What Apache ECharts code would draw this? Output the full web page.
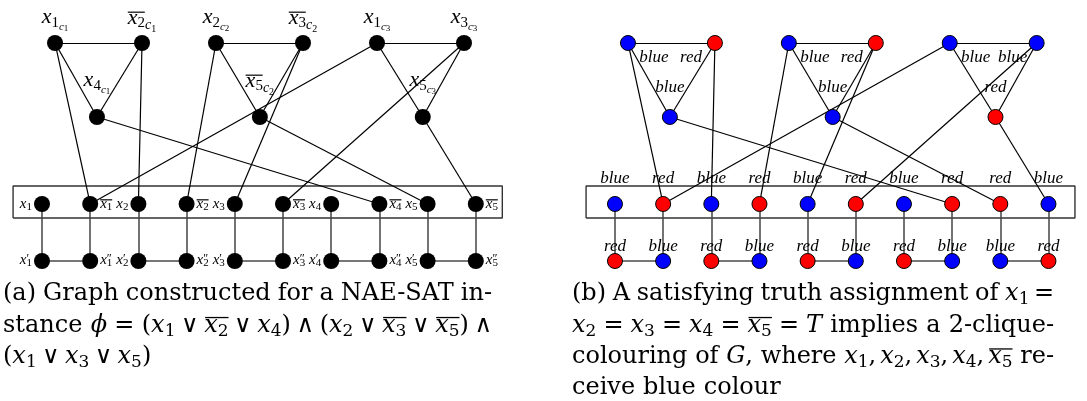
<!DOCTYPE html>
<html>
<head>
<meta charset="utf-8">
<script src="https://cdn.jsdelivr.net/npm/echarts@6.0.0/dist/echarts.min.js"></script>
<style>
html,body{margin:0;padding:0;background:#ffffff;}
#chart{width:1087px;height:401px;}
</style>
</head>
<body>
<div id="chart"></div>
<script>
// ================= data =================
// clause literals: [variable, negated]
const clauseLiterals = [
  [[1, false], [2, true], [4, false]],
  [[2, false], [3, true], [5, true]],
  [[1, false], [3, false], [5, false]]
];
// clause-node positions (x in literal-column units): top-left, top-right, middle
const clauseNodeX = [[0.27, 2.075, 1.14], [3.61, 5.415, 4.52], [6.95, 8.755, 7.9]];
const clauseNodeRow = ['top', 'top', 'middle'];
const rowY = { top: 4.523, middle: 2.988, literal: 1.183, bottom: 0 };
// literal columns: x1, ~x1, x2, ~x2, ... x5, ~x5
const literalX = [0, 1, 2, 3, 4, 5, 6, 7, 8, 9];
const cliqueBoxX = [-0.6, 9.55];
const cliqueBoxY = [0.892, 1.556];
// colouring of panel (b)
const clauseColours = [['blue', 'red', 'blue'], ['blue', 'red', 'blue'], ['blue', 'blue', 'red']];
const literalColours = ['blue', 'red', 'blue', 'red', 'blue', 'red', 'blue', 'red', 'red', 'blue'];
const bottomColours = ['red', 'blue', 'red', 'blue', 'red', 'blue', 'red', 'blue', 'blue', 'red'];

// captions (r: roman, i: math italic, s: subscript, sp/th/md/tn: spaces, ob/oe: overline)
const captionA = [
  ['r:(a)', 'sp', 'r:Graph', 'sp', 'r:constructed', 'sp', 'r:for', 'sp', 'r:a', 'sp', 'r:NAE-SAT', 'sp', 'r:in-'],
  ['r:stance', 'sp', 'i:ϕ', 'th', 'r:=', 'th', 'r:(', 'i:x', 's:1', 'md', 'r:∨', 'md', 'ob', 'i:x', 's:2', 'oe', 'md', 'r:∨', 'md', 'i:x', 's:4', 'r:)', 'md', 'r:∧', 'md',
   'r:(', 'i:x', 's:2', 'md', 'r:∨', 'md', 'ob', 'i:x', 's:3', 'oe', 'md', 'r:∨', 'md', 'ob', 'i:x', 's:5', 'oe', 'r:)', 'md', 'r:∧'],
  ['r:(', 'i:x', 's:1', 'md', 'r:∨', 'md', 'i:x', 's:3', 'md', 'r:∨', 'md', 'i:x', 's:5', 'r:)']
];
const captionB = [
  ['r:(b)', 'sp', 'r:A', 'sp', 'r:satisfying', 'sp', 'r:truth', 'sp', 'r:assignment', 'sp', 'r:of', 'sp', 'i:x', 's:1', 'th', 'r:='],
  ['i:x', 's:2', 'th', 'r:=', 'th', 'i:x', 's:3', 'th', 'r:=', 'th', 'i:x', 's:4', 'th', 'r:=', 'th', 'ob', 'i:x', 's:5', 'oe', 'th', 'r:=', 'th', 'i:T',
   'sp', 'r:implies', 'sp', 'r:a', 'sp', 'r:2-clique-'],
  ['r:colouring', 'sp', 'r:of', 'sp', 'i:G', 'r:,', 'sp', 'r:where', 'sp', 'i:x', 's:1', 'r:,', 'tn', 'i:x', 's:2', 'r:,', 'tn', 'i:x', 's:3', 'r:,', 'tn',
   'i:x', 's:4', 'r:,', 'tn', 'ob', 'i:x', 's:5', 'oe', 'sp', 'r:re-'],
  ['r:ceive', 'sp', 'r:blue', 'sp', 'r:colour']
];

// ================= styling / layout =================
const COLOR = { blue: '#0000ff', red: '#ff0000' };
const LF = 'Liberation Serif';
const UNIT = 48.2;           // px per literal column
const PANEL_SHIFT = 573;     // px between panel (a) and (b)
const X_MIN = -0.8, X_MAX = 9.8, Y_MIN = -0.5, Y_MAX = 4.8;
const FIRST_COL_PX = 42, BOTTOM_ROW_PX = 261;

function gridFor(p) {
  return {
    left: FIRST_COL_PX + X_MIN * UNIT + p * PANEL_SHIFT,
    top: BOTTOM_ROW_PX - Y_MAX * UNIT,
    width: (X_MAX - X_MIN) * UNIT,
    height: (Y_MAX - Y_MIN) * UNIT
  };
}

const base = { color: '#000', textBorderWidth: 0, textBorderColor: 'transparent', align: 'left', verticalAlign: 'top', fontFamily: LF };
function tok(o) { return Object.assign({}, base, o); }
const richLeft = {
  ol0: tok({ width: 17, height: 1.2, lineHeight: 1.2, fontSize: 1 }),
  ol1: tok({ width: 17, height: 1.2, lineHeight: 1.2, fontSize: 1, backgroundColor: '#000' }),
  X: tok({ fontStyle: 'italic', fontSize: 22, height: 10, lineHeight: 10 }),
  S: tok({ fontSize: 15, height: 20.3, lineHeight: 20.3 }),
  C: tok({ fontStyle: 'italic', fontSize: 11, height: 29.4, lineHeight: 29.4 }),
  CS: tok({ fontSize: 9, height: 32.7, lineHeight: 32.7 }),
  C2: tok({ fontStyle: 'italic', fontSize: 14, height: 25.4, lineHeight: 25.4 }),
  CS2: tok({ fontSize: 10, height: 32.2, lineHeight: 32.2 }),
  sol0: tok({ width: 12, height: 1.2, lineHeight: 1.2, fontSize: 1 }),
  sol1: tok({ width: 12, height: 1.2, lineHeight: 1.2, fontSize: 1, backgroundColor: '#000' }),
  XS: tok({ fontStyle: 'italic', fontSize: 15, height: 7, lineHeight: 7 }),
  SS: tok({ fontSize: 11, height: 14.3, lineHeight: 14.3 }),
  PR: tok({ fontSize: 12, width: 0, height: 5, lineHeight: 5 })
};

function literalIndex(v, neg) { return (v - 1) * 2 + (neg ? 1 : 0); }

function buildGraph(p) {
  const nodes = [], links = [];
  clauseLiterals.forEach((cl, j) => {
    cl.forEach(([v, neg], k) => {
      const row = clauseNodeRow[k];
      const node = { name: 'c' + j + k, value: [clauseNodeX[j][k], rowY[row]] };
      if (p === 0) {
        node.itemStyle = { color: '#000' };
        node.label = {
          position: 'inside', offset: [0, row === 'top' ? -14.7 : -25.7],
          formatter: neg ? `{ol1| }\n{X|x}{S|${v}}{C2|c}{CS2|${j + 1}}` : `{ol0| }\n{X|x}{S|${v}}{C|c}{CS|${j + 1}}`
        };
      } else {
        const col = clauseColours[j][k];
        node.itemStyle = { color: COLOR[col], borderColor: '#000', borderWidth: 1 };
        node.label = { position: 'inside', offset: k === 0 ? [26, 15] : (k === 1 ? [-24, 15] : [0, -29]), formatter: col };
      }
      nodes.push(node);
    });
    links.push({ source: 'c' + j + '0', target: 'c' + j + '1' });
    links.push({ source: 'c' + j + '0', target: 'c' + j + '2' });
    links.push({ source: 'c' + j + '1', target: 'c' + j + '2' });
    cl.forEach(([v, neg], k) => links.push({ source: 'c' + j + k, target: 'l' + literalIndex(v, !neg) }));
  });
  literalX.forEach((x, i) => {
    const v = Math.floor(i / 2) + 1, neg = i % 2 === 1;
    const lit = { name: 'l' + i, value: [x, rowY.literal] };
    const bot = { name: 'b' + i, value: [x, rowY.bottom] };
    if (p === 0) {
      lit.itemStyle = { color: '#000' };
      bot.itemStyle = { color: '#000' };
      lit.label = { position: neg ? 'right' : 'left', distance: neg ? 2 : 2, offset: [0, 3],
        formatter: `{sol${neg ? 1 : 0}| }\n{XS|x}{SS|${v}}` };
      bot.label = { position: neg ? 'right' : 'left', distance: neg ? 2 : 2, offset: [0, 2],
        formatter: `{sol0| }\n{XS|x}{PR|${neg ? '″' : '′'}}{SS|${v}}` };
    } else {
      lit.itemStyle = { color: COLOR[literalColours[i]], borderColor: '#000', borderWidth: 1 };
      bot.itemStyle = { color: COLOR[bottomColours[i]], borderColor: '#000', borderWidth: 1 };
      lit.label = { position: 'inside', offset: [0, -25], formatter: literalColours[i] };
      bot.label = { position: 'inside', offset: [0, -14], formatter: bottomColours[i] };
    }
    nodes.push(lit, bot);
    links.push({ source: 'l' + i, target: 'b' + i, lineStyle: { color: '#444', width: 1.5 } });
    if (i % 2 === 1) links.push({ source: 'b' + (i - 1), target: 'b' + i, lineStyle: { color: '#777', width: 2 } });
  });
  return {
    type: 'graph', coordinateSystem: 'cartesian2d', xAxisIndex: p, yAxisIndex: p,
    layout: 'none', symbol: 'circle', symbolSize: p === 0 ? 16 : 15,
    silent: true, animation: false, roam: false, draggable: false,
    emphasis: { disabled: true },
    data: nodes, links: links, z: 3,
    lineStyle: { color: '#000', width: 1.2, opacity: 1, curveness: 0 },
    label: p === 0
      ? { show: true, color: '#000', textBorderWidth: 0, textBorderColor: 'transparent', rich: richLeft }
      : { show: true, color: '#000', textBorderWidth: 0, textBorderColor: 'transparent', fontFamily: LF, fontStyle: 'italic', fontSize: 17 }
  };
}

function buildBox(p) {
  return {
    type: 'line', xAxisIndex: p, yAxisIndex: p, symbol: 'none', silent: true, animation: false, z: 1,
    lineStyle: { color: '#333', width: 1.4 },
    data: [[cliqueBoxX[0], cliqueBoxY[0]], [cliqueBoxX[1], cliqueBoxY[0]], [cliqueBoxX[1], cliqueBoxY[1]],
           [cliqueBoxX[0], cliqueBoxY[1]], [cliqueBoxX[0], cliqueBoxY[0]]]
  };
}

// ---------- caption layout (justified like the LaTeX source) ----------
const mctx = document.createElement('canvas').getContext('2d');
const CAP_FAMILY = '"DejaVu Serif"';
const CAP_SIZE = 24, CAP_SUB = 17, CAP_SUB_DROP = 4, OVERLINE_RISE = 16.5;
function capFont(kind) {
  if (kind === 'i') return `italic ${CAP_SIZE}px ${CAP_FAMILY}`;
  if (kind === 's') return `${CAP_SUB}px ${CAP_FAMILY}`;
  return `${CAP_SIZE}px ${CAP_FAMILY}`;
}
function midOffset(font) {
  mctx.font = font;
  const m = mctx.measureText('x');
  if (m.fontBoundingBoxAscent !== undefined) return (m.fontBoundingBoxAscent - m.fontBoundingBoxDescent) / 2;
  return 0.35 * parseFloat(font.match(/(\d+(\.\d+)?)px/)[1]);
}
const GLUE = { sp: [CAP_SIZE / 3, 1], th: [CAP_SIZE * 5 / 18, 1.67], md: [CAP_SIZE * 4 / 18, 0.67], tn: [CAP_SIZE * 3 / 18, 0] };
function layoutCaption(lines, left, right, firstBaseline, lineStep, els) {
  lines.forEach((items, li) => {
    const justify = li < lines.length - 1;
    const parsed = items.map(s => {
      const q = s.indexOf(':');
      return q < 0 ? { kind: s } : { kind: s.slice(0, q), text: s.slice(q + 1) };
    });
    let natural = 0, stretch = 0;
    parsed.forEach(it => {
      if (GLUE[it.kind]) { it.w = GLUE[it.kind][0]; it.st = GLUE[it.kind][1]; stretch += it.st; }
      else if (it.text !== undefined) { mctx.font = capFont(it.kind); it.w = mctx.measureText(it.text).width; }
      else it.w = 0;
      natural += it.w;
    });
    const extra = justify ? (right - left - natural) : 0;
    const baseline = firstBaseline + li * lineStep;
    let x = left, obX = 0;
    parsed.forEach(it => {
      if (GLUE[it.kind]) { x += it.w + (stretch ? extra * it.st / stretch : 0); return; }
      if (it.kind === 'ob') { obX = x; return; }
      if (it.kind === 'oe') {
        els.push({ type: 'rect', silent: true, shape: { x: obX + 1, y: baseline - OVERLINE_RISE, width: x - obX - 1, height: 1.3 }, style: { fill: '#000' } });
        return;
      }
      const f = capFont(it.kind);
      const y = baseline + (it.kind === 's' ? CAP_SUB_DROP : 0);
      els.push({ type: 'text', silent: true, x: x, y: y - midOffset(f),
        style: { text: it.text, font: f, fill: '#000', align: 'left', verticalAlign: 'middle', textAlign: 'left', textVerticalAlign: 'middle' } });
      x += it.w;
    });
  });
}
const captionEls = [];
layoutCaption(captionA, 3, 492, 302, 31.4, captionEls);
layoutCaption(captionB, 572, 1054, 302, 31.4, captionEls);

const chart = echarts.init(document.getElementById('chart'), null, { renderer: 'canvas' });
chart.setOption({
  animation: false,
  backgroundColor: '#ffffff',
  grid: [gridFor(0), gridFor(1)],
  xAxis: [0, 1].map(p => ({ gridIndex: p, type: 'value', min: X_MIN, max: X_MAX, show: false })),
  yAxis: [0, 1].map(p => ({ gridIndex: p, type: 'value', min: Y_MIN, max: Y_MAX, show: false })),
  series: [buildBox(0), buildGraph(0), buildBox(1), buildGraph(1)],
  graphic: { elements: captionEls }
});
</script>
</body>
</html>
